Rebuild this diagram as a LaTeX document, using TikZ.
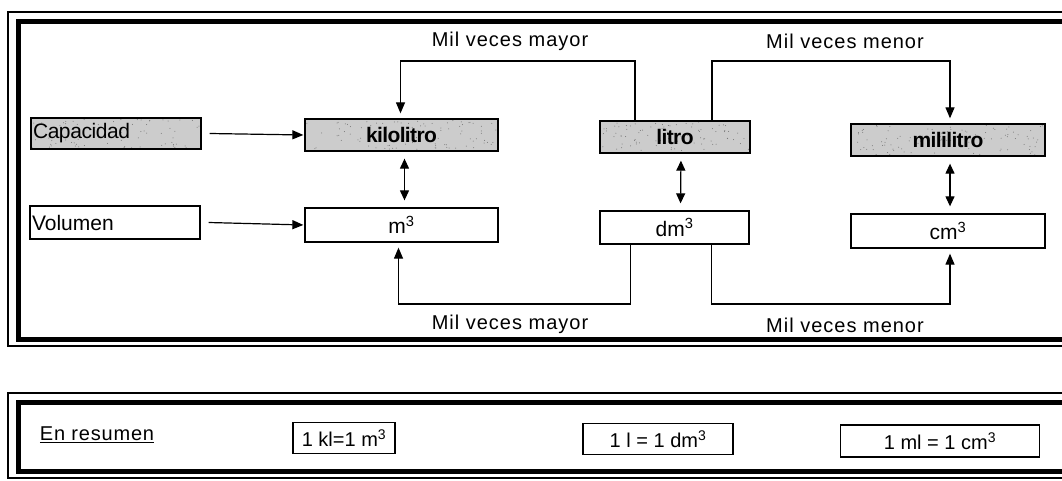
\documentclass[tikz,border=0pt]{standalone}
\usepackage{fontspec}
\setmainfont{Liberation Sans}
\usetikzlibrary{arrows.meta}
\begin{document}
\pgfmathsetseed{17}
\begin{tikzpicture}[x=1pt,y=-1pt,
  box/.style={draw, line width=1.3pt, inner sep=0pt,
    font=\fontsize{21}{23}\selectfont},
  speck/.style 2 args={path picture={
    \foreach \i in {1,...,#1}{
      \fill[black!55] ([xshift={(rnd-0.5)*#2}, yshift={(rnd-0.5)*30}]path picture bounding box.center)
        circle (0.5pt);}}},
  gbox/.style={box, fill=black!20,
    font=\fontsize{21}{23}\selectfont\bfseries\addfontfeature{LetterSpace=-3}},
  arr/.style={line width=1.2pt, -{Triangle[length=11pt,width=9pt]}},
  darr/.style={line width=1.2pt,
    {Triangle[length=10pt,width=9pt]}-{Triangle[length=10pt,width=9pt]}},
  link/.style={line width=1.1pt},
  lbl/.style={inner sep=0pt,
    font=\fontsize{20}{22}\selectfont\addfontfeature{LetterSpace=5}},
  frameout/.style={line width=1.2pt},
  framein/.style={line width=5pt}
]
\useasboundingbox (0,0) rectangle (1062,481);

% panel frames (double rule, thin outside, heavy inside)
\draw[frameout] (8,12) rectangle (1075,346);
\draw[framein] (18,22) rectangle (1075,339);
\draw[frameout] (8,393) rectangle (1075,478);
\draw[framein] (18,402) rectangle (1075,471);

% row of capacity units
\node[gbox, speck={70}{170}, minimum width=170pt, minimum height=31pt,
  text width=166pt, align=left,
  font=\fontsize{21}{23}\selectfont\addfontfeature{LetterSpace=-2}] (cap) at (116,133.5) {Capacidad};
\node[gbox, speck={90}{193}, minimum width=193pt, minimum height=32pt] (kl) at (401.5,135) {kilolitro};
\node[gbox, speck={90}{150}, minimum width=150pt, minimum height=32pt] (lit) at (675,137) {litro};
\node[gbox, speck={100}{194}, minimum width=194pt, minimum height=32pt] (ml) at (948,140) {mililitro};

% row of volume units
\node[box, minimum width=170pt, minimum height=33pt,
  text width=166pt, align=left] (vol) at (115,222.5) {Volumen};
\node[box, minimum width=193pt, minimum height=34pt] (m3) at (401.5,225) {m\textsuperscript{3}};
\node[box, minimum width=149pt, minimum height=33pt] (dm3) at (674.5,227.5) {dm\textsuperscript{3}};
\node[box, minimum width=194pt, minimum height=34pt] (cm3) at (948,231) {cm\textsuperscript{3}};

% heading arrows
\draw[arr, shorten >=1pt] ([xshift=8pt]cap.east) -- (kl.west);
\draw[arr, shorten >=1pt] ([xshift=8pt]vol.east) -- (m3.west);

% equivalence arrows
\draw[darr, shorten <=7pt, shorten >=7pt] ([xshift=3pt]kl.south) -- ([xshift=3pt]m3.north);
\draw[darr, shorten <=7pt, shorten >=7pt] ([xshift=6pt]lit.south) -- ([xshift=6pt]dm3.north);
\draw[darr, shorten <=7pt, shorten >=7pt] ([xshift=2pt]ml.south) -- ([xshift=2pt]cm3.north);

% conversions between capacity units
\coordinate (ytop) at (0,61);
\coordinate (ybot) at (0,304);
\draw[link, arr, shorten >=5pt] ([xshift=-40pt]lit.north) |- ([xshift=-1pt]kl.north |- ytop)
  -- ([xshift=-1pt]kl.north);
\draw[link, arr, shorten >=5pt] ([xshift=37pt]lit.north) |- ([xshift=2pt]ml.north |- ytop)
  -- ([xshift=2pt]ml.north);
\node[lbl] (tmay) at (510,41) {Mil veces mayor};
\node[lbl] (tmen) at (845,41) {Mil veces menor};

% conversions between volume units
\draw[link, arr, shorten >=5pt] ([xshift=-44pt]dm3.south) |- ([xshift=-3pt]m3.south |- ybot)
  -- ([xshift=-3pt]m3.south);
\draw[link, arr, shorten >=5pt] ([xshift=37pt]dm3.south) |- ([xshift=2pt]cm3.south |- ybot)
  -- ([xshift=2pt]cm3.south);
\node[lbl] (bmay) at (510,324) {Mil veces mayor};
\node[lbl] (bmen) at (845,325) {Mil veces menor};

% summary
\node[inner sep=0pt, font=\fontsize{20}{22}\selectfont\addfontfeature{LetterSpace=4}]
  (res) at (97,435) {\underline{En resumen}};
\node[box, font=\fontsize{20}{22}\selectfont, minimum width=102pt, minimum height=31pt]
  (e1) at (344,438) {1 kl=1 m\textsuperscript{3}};
\node[box, font=\fontsize{20}{22}\selectfont, minimum width=150pt, minimum height=31pt]
  (e2) at (658,439) {1 l = 1 dm\textsuperscript{3}};
\node[box, font=\fontsize{20}{22}\selectfont, minimum width=199pt, minimum height=32pt]
  (e3) at (940,441) {1 ml = 1 cm\textsuperscript{3}};
\end{tikzpicture}
\end{document}
